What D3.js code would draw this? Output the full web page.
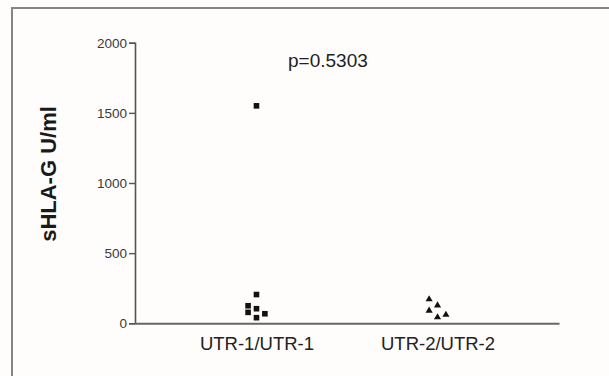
<!DOCTYPE html>
<html>
<head>
<meta charset="utf-8">
<script src="https://cdn.jsdelivr.net/npm/d3@7"></script>
<style>
  html, body { margin: 0; padding: 0; background: #fefdfb; }
  svg { display: block; font-family: Arial, "Liberation Sans", sans-serif; }
</style>
</head>
<body>
<svg id="chart" width="609" height="376"></svg>
<script>
// Genotype groups
const categories = ["UTR-1/UTR-1", "UTR-2/UTR-2"];
// sHLA-G concentrations (U/ml) per subject
const utr1Values = [1550, 205, 125, 78, 104, 68, 40];
const utr2Values = [171, 128, 90, 43, 61];
// Column slot of each point within its scatter group (-1 left, 0 centre, 1 right)
const utr1Lane = [0, 0, -1, -1, 0, 1, 0];
const utr2Lane = [-1, 0, -1, 0, 1];
const yTicks = [0, 500, 1000, 1500, 2000];
const pLabel = "p=0.5303";
const yTitle = "sHLA-G U/ml";

(function draw() {
  const svg = d3.select("#chart");
  const W = 609, H = 376;
  const mLeft = 135, mRight = 559, mTop = 42.7, mBottom = 323.3;

  // Panel frame (left and top edges)
  svg.append("path")
    .attr("d", `M12,${H} L12,8 L${W},8`)
    .attr("fill", "none").attr("stroke", "#858585").attr("stroke-width", 2);

  const x = d3.scalePoint().domain(categories).range([mLeft, mRight]).padding(0.671);
  const y = d3.scaleLinear().domain([0, 2000]).range([mBottom, mTop]);

  // Y axis
  const yAxis = svg.append("g")
    .attr("transform", `translate(${mLeft},0)`)
    .call(d3.axisLeft(y).tickValues(yTicks).tickSize(6).tickPadding(2).tickFormat(d3.format("d")));
  yAxis.select(".domain").attr("stroke", "#555").attr("stroke-width", 1.6);
  yAxis.selectAll(".tick line").attr("stroke", "#555").attr("stroke-width", 1.4);
  yAxis.selectAll(".tick text").attr("fill", "#3a3a3a").attr("font-size", 13.5);

  // X axis
  const xAxis = svg.append("g")
    .attr("transform", `translate(0,${mBottom})`)
    .call(d3.axisBottom(x).tickSize(0).tickPadding(14));
  xAxis.select(".domain").attr("stroke", "#666").attr("stroke-width", 2);
  xAxis.selectAll(".tick text").attr("fill", "#222").attr("font-size", 18.5);

  // Y title
  svg.append("text")
    .attr("transform", `translate(56,174) rotate(-90)`)
    .attr("text-anchor", "middle")
    .attr("font-weight", "bold").attr("font-size", 22).attr("fill", "#1a1a1a")
    .text(yTitle);

  // Significance label
  svg.append("text")
    .attr("x", 288).attr("y", 66.5)
    .attr("font-size", 19).attr("fill", "#222")
    .text(pLabel);

  const laneStep = 8.4;

  // Group 1: squares
  const sq = 5.6;
  svg.append("g").selectAll("rect")
    .data(utr1Values.map((v, i) => ({ v, lane: utr1Lane[i] })))
    .join("rect")
    .attr("x", d => x(categories[0]) + d.lane * laneStep - sq / 2)
    .attr("y", d => y(d.v) - sq / 2)
    .attr("width", sq).attr("height", sq)
    .attr("fill", "#111");

  // Group 2: triangles
  const tri = d3.symbol().type(d3.symbolTriangle).size(22);
  svg.append("g").selectAll("path.tri")
    .data(utr2Values.map((v, i) => ({ v, lane: utr2Lane[i] })))
    .join("path")
    .attr("class", "tri")
    .attr("d", tri)
    .attr("transform", d => `translate(${x(categories[1]) + d.lane * laneStep},${y(d.v)})`)
    .attr("fill", "#111");
})();
</script>
</body>
</html>
